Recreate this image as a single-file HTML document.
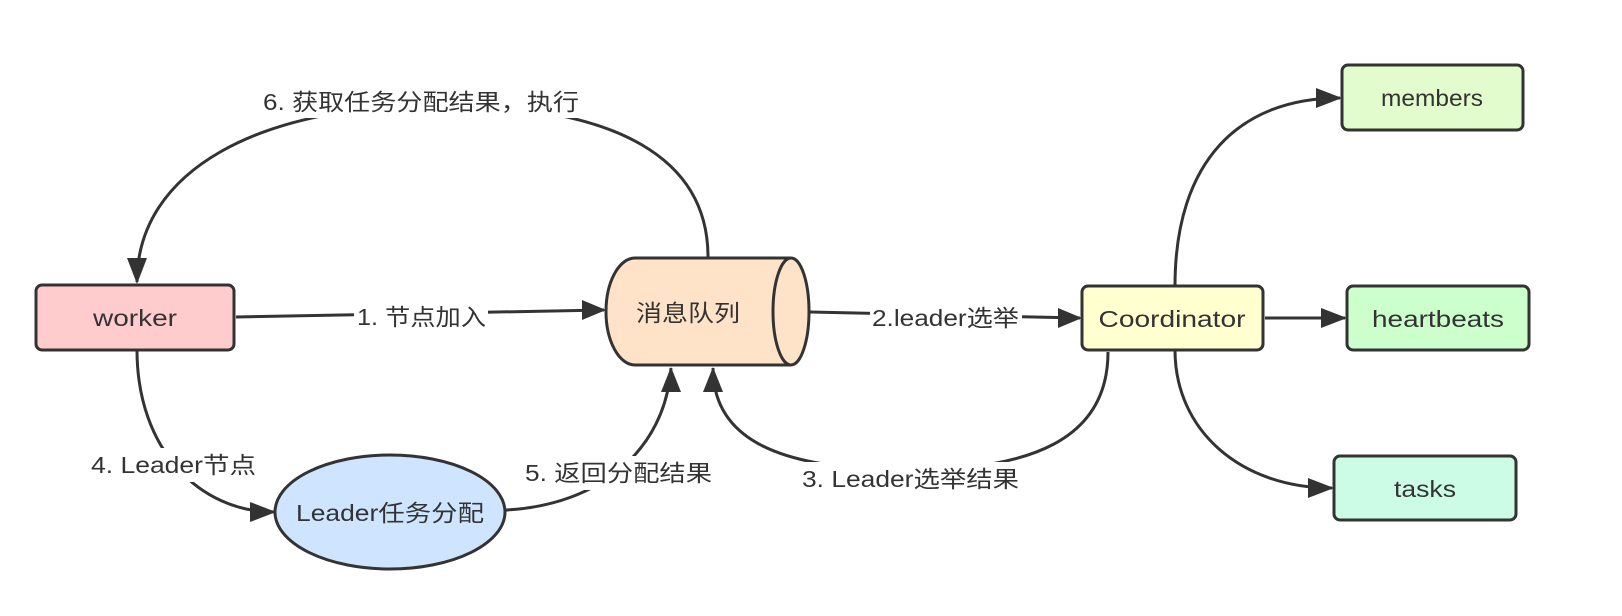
<!DOCTYPE html>
<html><head><meta charset="utf-8"><style>
html,body{margin:0;padding:0;background:#fff;}
svg{display:block;}
text{font-family:"Liberation Sans","Noto Sans CJK SC",sans-serif;fill:#333;}
</style></head><body>
<svg width="1622" height="616" viewBox="0 0 1622 616" xmlns="http://www.w3.org/2000/svg">
<style>.l{fill:none;stroke:#333;stroke-width:3;} .n{stroke:#333;stroke-width:3;}</style>
<!-- connectors -->
<path class="l" d="M236,317 L604,310"/>
<path class="l" d="M810,312 L1080,318" />
<path class="l" d="M708,257 C708,160 620,105 440,105 C260,105 137,170 137,282"/>
<path class="l" d="M137,350 C137,450 200,512 274,512"/>
<path class="l" d="M506,510 C600,505 665,450 671,368"/>
<path class="l" d="M1108,352 C1108,440 1030,470 910,470 C780,470 713,440 713,368"/>
<path class="l" d="M1175,286 C1175,160 1240,98 1340,98"/>
<path class="l" d="M1265,318 L1345,318"/>
<path class="l" d="M1175,350 C1175,430 1240,488 1332,488"/>
<!-- arrowheads -->
<g fill="#333">
<polygon points="606,310 582,300 582,320"/>
<polygon points="1082,318 1058,308 1058,328"/>
<polygon points="137,284 127,258 147,258"/>
<polygon points="276,512 250,502 250,522"/>
<polygon points="671,367 661,392 681,392"/>
<polygon points="713,367 703,392 723,392"/>
<polygon points="1342,98 1316,88 1316,108"/>
<polygon points="1347,318 1321,308 1321,328"/>
<polygon points="1334,488 1308,478 1308,498"/>
</g>
<!-- label backgrounds -->
<g fill="#fff">
<rect x="354" y="300" width="134" height="32"/>
<rect x="870" y="302" width="152" height="32"/>
<rect x="260" y="84" width="322" height="34"/>
<rect x="88" y="448" width="172" height="34"/>
<rect x="522" y="456" width="194" height="34"/>
<rect x="798" y="462" width="224" height="34"/>
</g>
<g font-size="23" lengthAdjust="spacingAndGlyphs">
<text x="357" y="325" textLength="129" lengthAdjust="spacingAndGlyphs">1. 节点加入</text>
<text x="872" y="326" textLength="147" lengthAdjust="spacingAndGlyphs">2.leader选举</text>
<text x="263" y="110" textLength="316" lengthAdjust="spacingAndGlyphs">6. 获取任务分配结果，执行</text>
<text x="91" y="473" textLength="165" lengthAdjust="spacingAndGlyphs">4. Leader节点</text>
<text x="525" y="481" textLength="187" lengthAdjust="spacingAndGlyphs">5. 返回分配结果</text>
<text x="802" y="487" textLength="217" lengthAdjust="spacingAndGlyphs">3. Leader选举结果</text>
</g>
<!-- nodes -->
<rect class="n" x="36" y="285" width="198" height="65" rx="6" fill="#ffccce"/>
<path class="n" d="M635,258 L791,258 A18,53.5 0 0 1 791,365 L635,365 A29,53.5 0 0 1 635,258 z" fill="#ffe3c8"/>
<path class="n" d="M791,258 A18,53.5 0 0 0 791,365" fill="none"/>
<ellipse class="n" cx="390" cy="512" rx="115" ry="57" fill="#cfe5ff"/>
<rect class="n" x="1082" y="286" width="181" height="64" rx="6" fill="#ffffd0"/>
<rect class="n" x="1342" y="65" width="181" height="65" rx="6" fill="#e2fccd"/>
<rect class="n" x="1347" y="286" width="182" height="64" rx="6" fill="#ccffcc"/>
<rect class="n" x="1334" y="456" width="182" height="64" rx="6" fill="#ccfce5"/>
<g font-size="23" text-anchor="middle">
<text x="135" y="326" textLength="84" lengthAdjust="spacingAndGlyphs">worker</text>
<text x="688" y="321" textLength="104" lengthAdjust="spacingAndGlyphs">消息队列</text>
<text x="390" y="521" textLength="188" lengthAdjust="spacingAndGlyphs">Leader任务分配</text>
<text x="1172" y="327" textLength="147" lengthAdjust="spacingAndGlyphs">Coordinator</text>
<text x="1432" y="106" textLength="102" lengthAdjust="spacingAndGlyphs">members</text>
<text x="1438" y="327" textLength="132" lengthAdjust="spacingAndGlyphs">heartbeats</text>
<text x="1425" y="497" textLength="62" lengthAdjust="spacingAndGlyphs">tasks</text>
</g>
</svg>
</body></html>
